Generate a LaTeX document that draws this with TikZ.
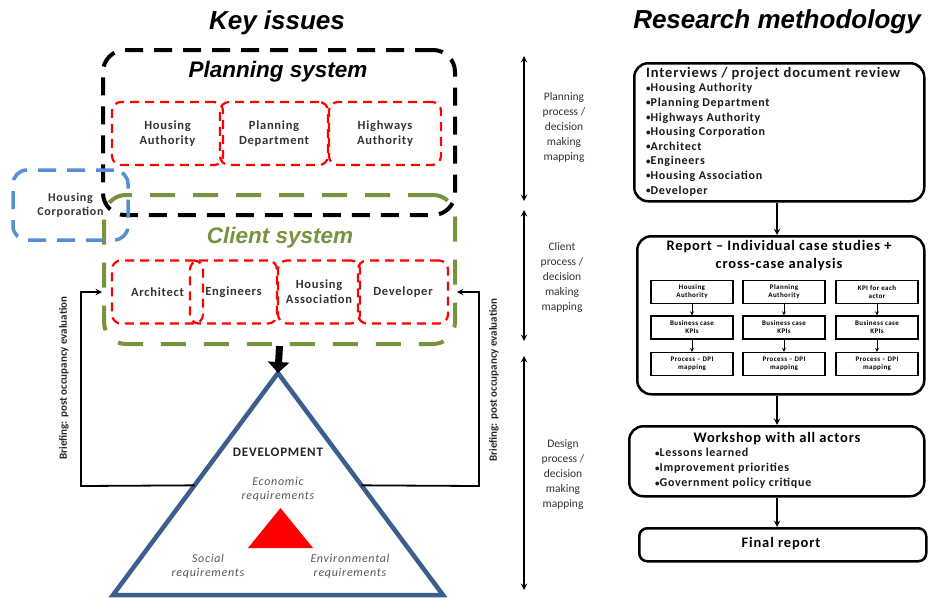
\documentclass[tikz,border=0pt]{standalone}
\usepackage{fontspec}
\setmainfont{Carlito}
\newfontfamily\headfont{Liberation Sans}
\newfontfamily\widefont{Carlito}[LetterSpace=6.0]
\newcommand{\itm}{\raisebox{0.6pt}{\fontsize{9}{9}\selectfont •}}
\usetikzlibrary{positioning, calc, arrows.meta}

\definecolor{clientgreen}{HTML}{77933C}
\definecolor{corpblue}{HTML}{558ED5}
\definecolor{devblue}{HTML}{3B5E8C}

\begin{document}
\begin{tikzpicture}[x=1pt, y=-1pt]
    % Define styles
    \tikzstyle{heading} = [font=\headfont\bfseries\itshape\fontsize{26}{28}\selectfont]
    \tikzstyle{systitle} = [font=\headfont\bfseries\itshape\fontsize{22.5}{24}\selectfont]
    \tikzstyle{system} = [rectangle, rounded corners=22pt, line width=4pt, dash pattern=on 18pt off 11pt]
    \tikzstyle{actor} = [rectangle, rounded corners=9pt, draw=red, line width=2.2pt, dash pattern=on 9pt off 6pt, minimum height=63pt, align=center, font=\widefont\bfseries\fontsize{12.5}{15}\selectfont, text=black!80]
    \tikzstyle{method} = [rectangle, rounded corners=14pt, draw=black, line width=2.5pt, align=left, anchor=north west]
    \tikzstyle{casebox} = [rectangle, draw=black, line width=1.3pt, minimum width=82pt, minimum height=23pt, align=center, font=\widefont\bfseries\fontsize{7}{8}\selectfont]
    \tikzstyle{mapping} = [align=center, font=\fontsize{11.5}{15}\selectfont, text=black!80]
    \tikzstyle{req} = [align=center, font=\widefont\itshape\fontsize{12}{14}\selectfont, text=black!65]
    \tikzstyle{methtitle} = [font=\widefont\bfseries\fontsize{14.5}{18}\selectfont]
    \tikzstyle{methitems} = [anchor=north west, align=left, inner sep=0pt, font=\widefont\bfseries\fontsize{12}{14.6}\selectfont, text=black!90]
    \tikzstyle{arrow} = [thick, ->, >=stealth]
    \tikzstyle{bigarrow} = [line width=1.8pt, ->, >=stealth]

    \useasboundingbox (0,0) rectangle (931,598);

    % Titles
    \node (keyissues) [heading] at (277,23) {Key issues};
    \node (research) [heading] at (777,22) {Research methodology};

    % Planning system
    \node (planning) [system, draw=black, minimum width=352pt, minimum height=165pt] at (279,132.5) {};
    \node (planningtitle) [systitle] at (278,72) {Planning system};
    \node (housauth) [actor, minimum width=111pt] at (167.5,133.5) {Housing\\Authority};
    \node (plandept) [actor, minimum width=108pt] at (274,133.5) {Planning\\Department};
    \node (highauth) [actor, minimum width=112pt] at (385,133.5) {Highways\\Authority};

    % Client system
    \node (client) [system, draw=clientgreen, dash pattern=on 25pt off 18pt, minimum width=351pt, minimum height=149pt] at (279.5,269.5) {};
    \node (clienttitle) [systitle, text=clientgreen] at (280,238) {Client system};
    \node (architect) [actor, minimum width=91pt] at (157.5,292) {Architect};
    \node (engineers) [actor, minimum width=87pt] at (233.5,292) {Engineers};
    \node (housassoc) [actor, minimum width=82pt] at (319,292) {Housing\\Association};
    \node (developer) [actor, minimum width=90pt] at (403,292) {Developer};

    % Housing corporation
    \node (housecorp) [system, draw=corpblue, line width=3.5pt, rounded corners=14pt, minimum width=115pt, minimum height=70pt, align=center, font=\widefont\bfseries\fontsize{12}{14}\selectfont, text=black!80] at (70.5,205) {Housing\\Corporation};

    % Development triangle
    \coordinate (apex) at (278,373);
    \coordinate (baseleft) at (113,595);
    \coordinate (baseright) at (443,595);
    \draw [devblue, line width=4.5pt, line join=miter, fill=white] (apex) -- (baseleft) -- (baseright) -- cycle;
    \fill [red] (280.5,508) -- (248,548) -- (313,548) -- cycle;
    \node (develop) [font=\widefont\bfseries\fontsize{13}{15}\selectfont, text=black!85] at (278,452) {DEVELOPMENT};
    \node (economic) [req] at (278,489) {Economic\\requirements};
    \node (social) [req] at (208,566) {Social\\requirements};
    \node (environ) [req] at (350,566) {Environmental\\requirements};

    \draw [line width=7pt, -{Triangle[width=21pt, length=11pt]}] (client.south) -- (apex);

    % Briefing loops
    \coordinate (leftfb) at ($(apex)!0.506!(baseleft)$);
    \coordinate (rightfb) at ($(apex)!0.506!(baseright)$);
    \coordinate (leftcorner) at (81,486);
    \coordinate (rightcorner) at (479,486);
    \draw [bigarrow] (leftfb) -- (leftcorner) |- (architect.west -| client.west);
    \draw [bigarrow] (rightfb) -- (rightcorner) |- (developer.east -| client.east);
    \node (briefleft) [rotate=90, font=\bfseries\fontsize{11}{13}\selectfont, text=black!85] at (64,378) {Briefing: post occupancy evaluation};
    \node (briefright) [rotate=90, font=\bfseries\fontsize{11}{13}\selectfont, text=black!85] at (494,380) {Briefing: post occupancy evaluation};

    % Process mapping scale
    \coordinate (plantop) at (524,56);
    \coordinate (planbot) at (524,201);
    \coordinate (clienttop) at (524,210);
    \coordinate (clientbot) at (524,341);
    \coordinate (designtop) at (524,356);
    \coordinate (designbot) at (524,590);
    \draw [bigarrow, <->] (plantop) -- (planbot);
    \draw [bigarrow, <->] (clienttop) -- (clientbot);
    \draw [bigarrow, <->] (designtop) -- (designbot);
    \node (planmap) [mapping] at (564,127) {Planning\\process /\\decision\\making\\mapping};
    \node (clientmap) [mapping] at (562,277) {Client\\process /\\decision\\making\\mapping};
    \node (designmap) [mapping] at (563,475) {Design\\process /\\decision\\making\\mapping};

    % Research methodology
    \node (interviews) [method, minimum width=290pt, minimum height=138pt, inner sep=0pt] at (633,62) {};
    \node (intertext) [methitems] at (646,67) {%
        {\bfseries\fontsize{14.5}{14.6}\selectfont Interviews / project document review}\\
        \itm Housing Authority\\
        \itm Planning Department\\
        \itm Highways Authority\\
        \itm Housing Corporation\\
        \itm Architect\\
        \itm Engineers\\
        \itm Housing Association\\
        \itm Developer};

    \node (report) [method, minimum width=287pt, minimum height=158pt, inner sep=0pt] at (636,235) {};
    \node (reporttitle) [methtitle, align=center] at (779,256) {Report – Individual case studies +\\cross-case analysis};
    \foreach \col/\x/\top in {1/692/Housing\\Authority, 2/784/Planning\\Authority, 3/877/KPI for each\\actor} {
        \node (kpi\col) [casebox] at (\x,292) {\top};
        \node (biz\col) [casebox] at (\x,327.5) {Business case\\KPIs};
        \node (dpi\col) [casebox] at (\x,364) {Process – DPI\\mapping};
        \draw [arrow] (kpi\col) -- (biz\col);
        \draw [arrow] (biz\col) -- (dpi\col);
    }

    \node (workshop) [method, minimum width=295pt, minimum height=70pt, inner sep=0pt] at (628,425) {};
    \node (workshoptitle) [methtitle] at (777,439) {Workshop with all actors};
    \node (workshoptext) [methitems, font=\widefont\bfseries\fontsize{12}{15}\selectfont] at (655,448) {%
        \itm Lessons learned\\
        \itm Improvement priorities\\
        \itm Government policy critique};

    \node (final) [method, rounded corners=8pt, minimum width=287pt, minimum height=33pt, inner sep=0pt] at (638,527) {};
    \node (finaltext) [methtitle] at (781,544) {Final report};

    % Arrows
    \draw [bigarrow] (interviews.south -| research.south) -- (report.north -| research.south);
    \draw [bigarrow] (report.south -| research.south) -- (workshop.north -| research.south);
    \draw [bigarrow] (workshop.south -| research.south) -- (final.north -| research.south);
\end{tikzpicture}
\end{document}
